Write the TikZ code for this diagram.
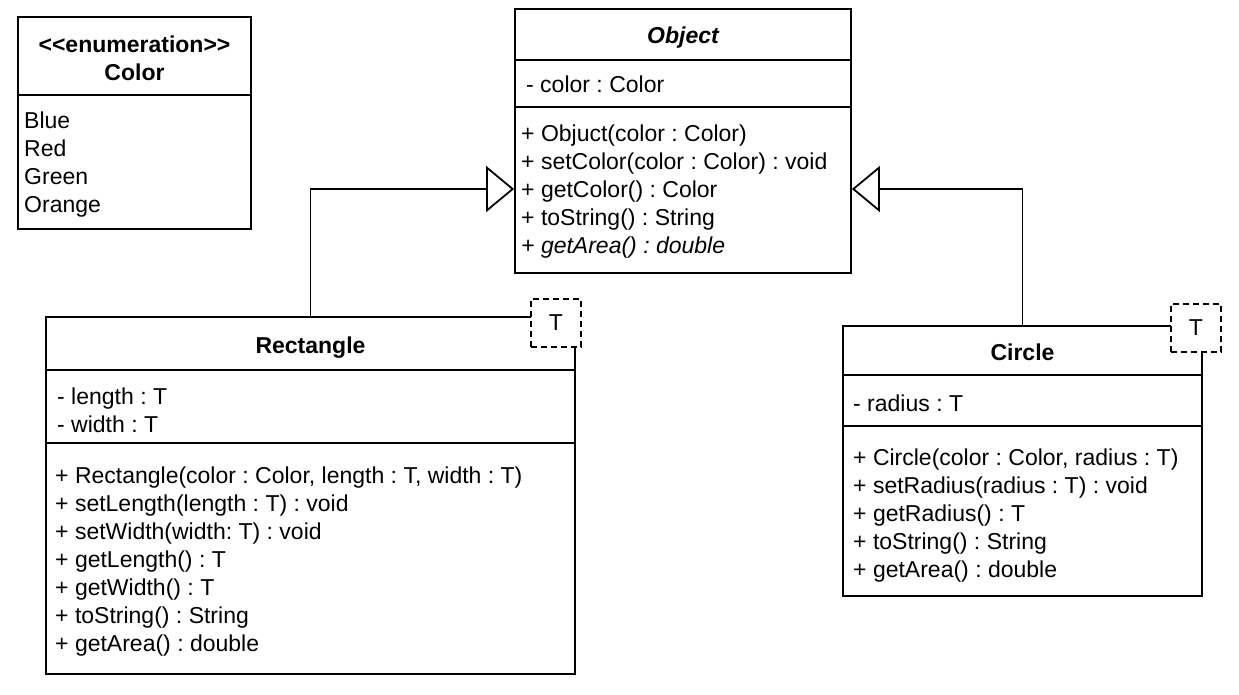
\documentclass[tikz,border=0pt]{standalone}
\usepackage{fontspec}
\setmainfont{Liberation Sans}
\usetikzlibrary{arrows.meta,fit}
\newcommand{\umlfont}{\fontsize{23}{28}\selectfont\frenchspacing}

\begin{document}
\begin{tikzpicture}[x=1pt,y=1pt,yscale=-1,
	classbox/.style={draw, line width=1.8pt, inner sep=0pt},
	tparam/.style={draw, fill=white, line width=1.8pt, dash pattern=on 6pt off 4pt, inner sep=0pt, minimum width=50pt, minimum height=48pt, font=\umlfont},
	members/.style={anchor=base west, inner sep=0pt, align=left, font=\umlfont},
	title/.style={anchor=base, inner sep=0pt, align=center, font=\umlfont\bfseries},
	inherit/.style={line width=1.8pt, -{Triangle[open, length=28pt, width=46pt]}}]
	\useasboundingbox (0,0) rectangle (1239,694);
	
	%Shape: Rectangle [enumeration]
	\node [classbox, fit={(18,17) (251,229)}] (enum) {};
	\draw [line width=1.8pt] (18,95) -- (251,95) ;
	%Shape: Rectangle [Object]
	\node [classbox, fit={(515,9) (851,273)}] (obj) {};
	\draw [line width=1.8pt] (515,60) -- (851,60) ;
	\draw [line width=1.8pt] (515,107) -- (851,107) ;
	%Shape: Rectangle [Rectangle]
	\node [classbox, fit={(46,317) (575,674)}] (rect) {};
	\draw [line width=1.8pt] (46,370) -- (575,370) ;
	\draw [line width=1.8pt] (46,443) -- (575,443) ;
	%Shape: Rectangle [Circle]
	\node [classbox, fit={(843,326) (1202,596)}] (circ) {};
	\draw [line width=1.8pt] (843,375) -- (1202,375) ;
	\draw [line width=1.8pt] (843,426) -- (1202,426) ;
	
	%Shape: Template parameters
	\draw (556,323) node [tparam] (rectT) {T};
	\draw (1196,328) node [tparam] (circT) {T};
	
	%Straight Lines [generalization]
	\coordinate (genY) at (0,189);
	\draw [inherit] (rect.north) |- (obj.west |- genY) ;
	\draw [inherit] (circ.north) |- (obj.east |- genY) ;
	
	% Text Node (base = last line)
	\draw (134.5,80.5) node [title] (enumName) {<\kern0pt<enumeration>\kern0pt>\\Color};
	% Text Node
	\draw (24,212) node [members] (enumVals) {Blue\\Red\\Green\\Orange};
	% Text Node
	\draw (683,43) node [title, font=\umlfont\bfseries\itshape] (objName) {Object};
	% Text Node
	\draw (526,92) node [members] (objAttr) {- color : Color};
	% Text Node
	\draw (521,253) node [members] (objOps) {+ Objuct(color : Color)\\+ setColor(color : Color) : void\\+ getColor() : Color\\+ toString() : String\\\textit{+ getArea() : double}};
	% Text Node
	\draw (310.5,353) node [title] (rectName) {Rectangle};
	% Text Node
	\draw (57,432) node [members] (rectAttr) {- length : T\\- width : T};
	% Text Node
	\draw (55,651) node [members] (rectOps) {+ Rectangle(color : Color, length : T, width : T)\\+ setLength(length : T) : void\\+ setWidth(width: T) : void\\+ getLength() : T\\+ getWidth() : T\\+ toString() : String\\+ getArea() : double};
	% Text Node
	\draw (1022.5,360) node [title] (circName) {Circle};
	% Text Node
	\draw (853,411) node [members] (circAttr) {- radius : T};
	% Text Node
	\draw (853,577) node [members] (circOps) {+ Circle(color : Color, radius : T)\\+ setRadius(radius : T) : void\\+ getRadius() : T\\+ toString() : String\\+ getArea() : double};
	
\end{tikzpicture}
\end{document}
